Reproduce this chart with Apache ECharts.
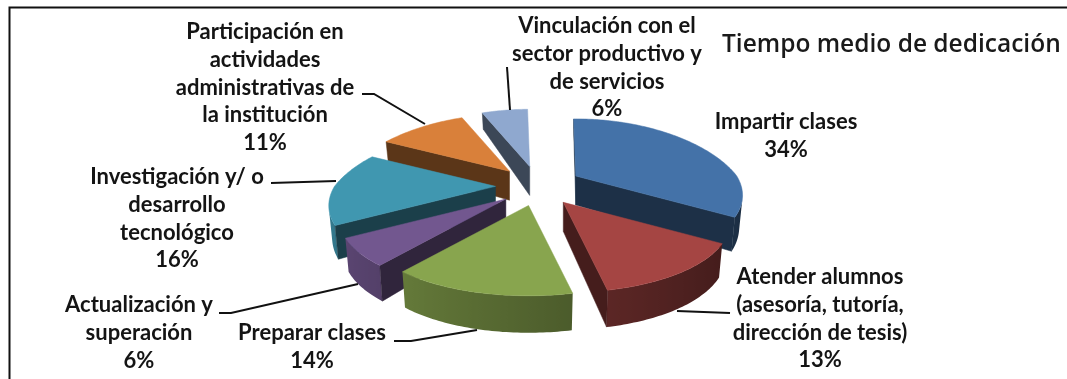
<!DOCTYPE html>
<html><head><meta charset="utf-8">
<style>html,body{margin:0;padding:0;background:#fff}#c{width:1067px;height:379px;filter:blur(0.4px)}</style>
<script src="https://cdn.jsdelivr.net/npm/echarts@6/dist/echarts.min.js"></script>
</head><body><div id="c"></div>
<script>
// ---- data ----
const chartTitle = 'Tiempo medio de dedicación';
const categories = [
  'Impartir clases',
  'Atender alumnos\n(asesoría, tutoría,\ndirección de tesis)',
  'Preparar clases',
  'Actualización y\nsuperación',
  'Investigación y/ o\ndesarrollo\ntecnológico',
  'Participación en\nactividades\nadministrativas de\nla institución',
  'Vinculación con el\nsector productivo y\nde servicios'
];
const shares = [34, 13, 14, 6, 16, 11, 6];
// ---- styles and layout ----
const sliceColors = ['#4472a8', '#a54543', '#88a54e', '#72578f', '#4097b0', '#d9803a', '#8fa8cf'];
const paintOrder = [5, 6, 7, 4, 3, 2, 1]; // back-to-front rank per slice
const labelAnchors = [[786,122],[820,277],[312,333],[139,305],[177,177],[265,32],[607,26]];
const leaders = [
  [],
  [[730,313],[677,311]],
  [[394,341],[411,341],[477,330]],
  [[219,313],[231,313],[358,284]],
  [[271,183],[336,181]],
  [[362,94],[374,94],[425,124]],
  [[507,67],[510,110]]
];
const geo = {cx:538.5, cy:186, R:161, kR:70, qxBack:0.33, qxFront:0.26, qy:0.225, ex:43, ey:20, rot:-1, conv:0.98};
const lineH = 27.8;
const labelFont = 'bold 22px Lato, sans-serif';

const total = shares.reduce((a,b)=>a+b,0);
const D = Math.PI/180;
function shade(hex,f){const n=parseInt(hex.slice(1),16);
  return 'rgb('+[(n>>16)&255,(n>>8)&255,n&255].map(v=>Math.round(v*f)).join(',')+')';}
function area(p){let s=0;for(let i=0;i<p.length;i++){const a=p[i],b=p[(i+1)%p.length];s+=a[0]*b[1]-b[0]*a[1];}return s;}

function renderSlice(params, api){
  const i = params.dataIndex, v = api.value(1);
  let before = 0; for(let j=0;j<i;j++) before += shares[j];
  const a0 = before/total*360+geo.rot, a1 = (before+v)/total*360+geo.rot, am=(a0+a1)/2;
  const ax = geo.cx+geo.ex*Math.sin(am*D), ay = geo.cy-geo.ey*Math.cos(am*D);
  const top = (th,r)=>{const c=Math.cos(th*D),s=Math.sin(th*D),qx=c>0?geo.qxBack:geo.qxFront;
    return [ax+geo.R*r*s/(1+qx*r*c), ay-geo.kR*r*c/(1+geo.qy*r*c)];};
  const bot = (th,r)=>{const p=top(th,r),u=r*Math.cos(th*D);
    return [ax+(p[0]-ax)*geo.conv, p[1]+29-11*u-3*u*u];};
  const base = sliceColors[i], z = paintOrder[i]*100;
  const kids = [];
  const poly=(pts,fill,stroke,zz)=>kids.push({type:'polygon',z2:z+zz,shape:{points:pts},
    style:{fill,stroke,lineWidth:0.5}});
  const wallTone = th => 0.6-0.22*Math.sin(th*D);
  // arc wall: one shaded band over the part that faces the viewer
  const n=Math.max(6,Math.ceil(a1-a0));
  const ths=[];
  for(let j=0;j<n;j++){
    const t0=a0+(a1-a0)*j/n,t1=a0+(a1-a0)*(j+1)/n;
    if(area([top(t0,1),top(t1,1),bot(t1,1),bot(t0,1)])<0){ if(!ths.length) ths.push(t0); ths.push(t1); }
  }
  if(ths.length>1){
    const pts=ths.map(t=>top(t,1)).concat(ths.slice().reverse().map(t=>bot(t,1)));
    const xs=pts.map(p=>p[0]),xmin=Math.min(...xs),xmax=Math.max(...xs);
    const stops=ths.map(t=>({offset:Math.min(1,Math.max(0,(top(t,1)[0]-xmin)/(xmax-xmin))),color:shade(base,wallTone(t))}))
      .sort((a,b)=>a.offset-b.offset);
    const grad={type:'linear',x:0,y:0,x2:1,y2:0,colorStops:stops};
    poly(pts,grad,null,1);
  }
  // radial walls
  const w0=[top(a0,0),top(a0,1),bot(a0,1),bot(a0,0)];
  const w1=[top(a1,0),top(a1,1),bot(a1,1),bot(a1,0)];
  const flat=shade(base,0.42);
  if(area(w0)<0) poly(w0,flat,flat,2);
  if(area(w1)>0) poly(w1,flat,flat,2);
  // top face
  const tp=[top(a0,0)];
  for(let j=0;j<=n;j++) tp.push(top(a0+(a1-a0)*j/n,1));
  poly(tp,base,base,3);
  // leader
  if(leaders[i].length) kids.push({type:'polyline',z2:5000,shape:{points:leaders[i]},
    style:{fill:'none',stroke:'#111',lineWidth:2}});
  // label
  const lines=(categories[i]+'\n'+v+'%').split('\n');
  lines.forEach((t,k)=>kids.push({type:'text',z2:6000,style:{text:t,
    x:labelAnchors[i][0],y:labelAnchors[i][1]+k*lineH,align:'center',verticalAlign:'middle',
    font:labelFont,fill:'#141414'}}));
  return {type:'group',children:kids};
}

const chart = echarts.init(document.getElementById('c'),null,{renderer:'canvas'});
chart.setOption({
  animation:false,
  backgroundColor:'#fff',
  title:{text:chartTitle,left:722,top:33,padding:0,
    textStyle:{fontFamily:'Open Sans',fontWeight:600,fontSize:24.5,color:'#1a1a1a'}},
  graphic:[
    {type:'polyline',z:1,shape:{points:[[9.5,379],[9.5,7.5],[1067,7.5]]},style:{fill:'none',stroke:'#111',lineWidth:2}}
  ],
  series:[{type:'custom',coordinateSystem:'none',renderItem:renderSlice,
    data:shares.map((v,i)=>({name:categories[i].replace(/\n/g,' '),value:[i,v]}))}]
});
</script></body></html>
